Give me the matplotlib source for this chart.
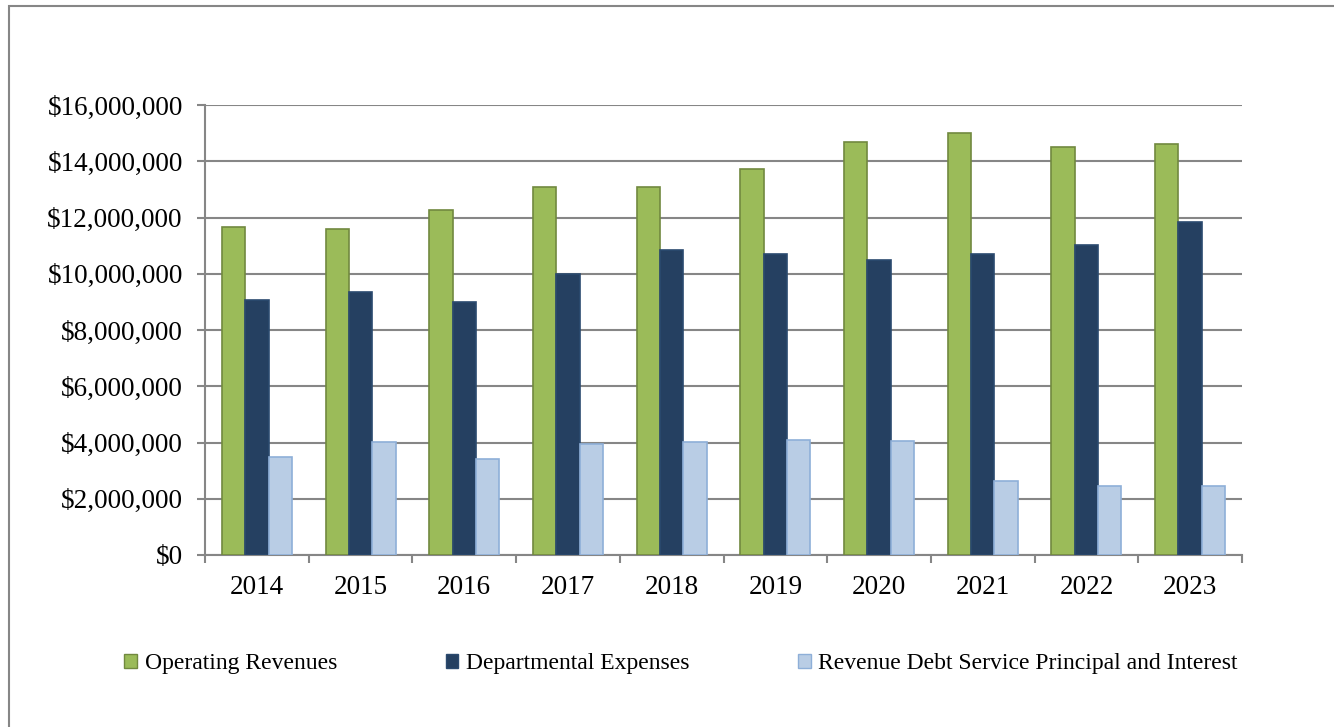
import numpy as np
import matplotlib
matplotlib.use("Agg")
import matplotlib.pyplot as plt
from matplotlib.patches import Rectangle, Patch
from matplotlib.ticker import FuncFormatter, FixedLocator

years = ["2014", "2015", "2016", "2017", "2018", "2019", "2020", "2021", "2022", "2023"]
operating_revenues = [11.68e6, 11.58e6, 12.25e6, 13.1e6, 13.1e6, 13.72e6, 14.7e6, 15.0e6, 14.5e6, 14.63e6]
departmental_expenses = [9.07e6, 9.35e6, 9.0e6, 9.98e6, 10.83e6, 10.7e6, 10.48e6, 10.7e6, 11.03e6, 11.83e6]
debt_service = [3.5e6, 4.01e6, 3.42e6, 3.93e6, 4.01e6, 4.08e6, 4.06e6, 2.64e6, 2.44e6, 2.44e6]

series_names = ["Operating Revenues", "Departmental Expenses",
                "Revenue Debt Service Principal and Interest"]
fills = ["#9BBB59", "#254061", "#B9CDE5"]
edges = ["#71893F", "#2B4A6F", "#8EAFD8"]

plt.rcParams["font.family"] = ["Liberation Serif", "DejaVu Serif"]

fig = plt.figure(figsize=(13.34, 7.27), dpi=100)
fig.patches.append(Rectangle((9 / 1334, -0.01), 1.02, 1 - 6 / 727 + 0.01,
                             transform=fig.transFigure, fill=False,
                             edgecolor="#868686", linewidth=1.5))

ax = fig.add_axes([205 / 1334, 172 / 727, 1037 / 1334, 450 / 727])

x = np.arange(len(years))
w = 0.225
for i, (vals, name) in enumerate(zip([operating_revenues, departmental_expenses, debt_service], series_names)):
    ax.bar(x + (i - 1) * w, vals, width=w, color=fills[i], edgecolor=edges[i],
           linewidth=1.2, label=name, zorder=3)

ax.set_xlim(-0.5, len(years) - 0.5)
ax.set_ylim(0, 16e6)
ax.set_yticks(np.arange(0, 16e6 + 1, 2e6))
ax.yaxis.set_major_formatter(FuncFormatter(lambda v, p: "${:,.0f}".format(v)))
ax.grid(axis="y", color="#868686", linewidth=1.5, zorder=0)

ax.set_xticks(x)
ax.set_xticklabels(years)
ax.xaxis.set_minor_locator(FixedLocator(np.arange(-0.5, len(years), 1.0)))
ax.tick_params(axis="x", which="major", length=0, pad=14.5, labelsize=19.5)
ax.tick_params(axis="x", which="minor", length=6, width=1.5, color="#868686")
ax.tick_params(axis="y", which="major", length=6, width=1.5, color="#868686",
               labelsize=19.5, pad=10)

for s in ["top", "right"]:
    ax.spines[s].set_visible(False)
for s in ["left", "bottom"]:
    ax.spines[s].set_color("#868686")
    ax.spines[s].set_linewidth(1.5)

handles = [Patch(facecolor=fills[i], edgecolor=edges[i], label=series_names[i]) for i in range(3)]
fig.legend(handles=handles, loc="center left", bbox_to_anchor=(115 / 1334, 63 / 727),
           ncol=3, frameon=False, fontsize=17, handlelength=0.55, handleheight=0.55,
           handletextpad=0.3, columnspacing=4.6, borderaxespad=0)

fig.savefig("out.png", dpi=100)
